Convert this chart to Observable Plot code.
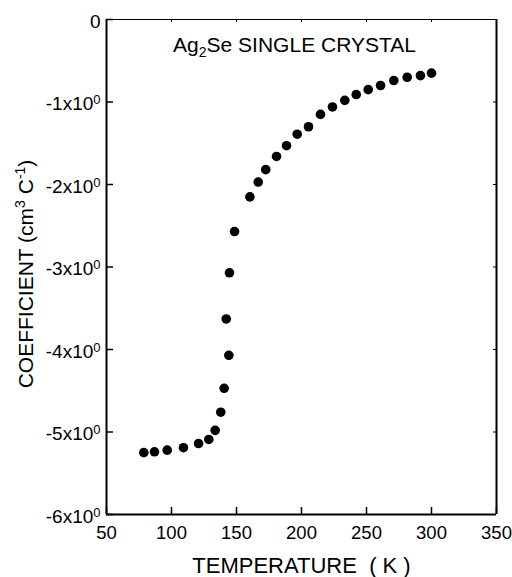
<!DOCTYPE html>
<html><head><meta charset="utf-8">
<script src="https://cdn.jsdelivr.net/npm/d3@7"></script>
<script src="https://cdn.jsdelivr.net/npm/@observablehq/plot@0.6"></script>
<style>html,body{margin:0;padding:0;background:#fff;}</style>
</head><body><div id="chart"></div>
<script>
const temperature = [78.7, 86.9, 96.7, 109.2, 120.8, 128.7, 133.6, 137.9, 140.5, 144.1, 142.1, 144.6, 148.5, 160.3, 166.7, 172.5, 180.8, 188.5, 196.7, 205.4, 214.6, 223.8, 233.3, 242.1, 251.3, 260.8, 271.0, 281.3, 291.5, 300.0];
const coefficient = [-5.25, -5.24, -5.22, -5.19, -5.14, -5.09, -4.98, -4.76, -4.47, -4.07, -3.63, -3.07, -2.57, -2.15, -1.97, -1.82, -1.66, -1.53, -1.39, -1.30, -1.15, -1.06, -0.98, -0.91, -0.85, -0.80, -0.74, -0.70, -0.68, -0.65];
const xTicks = [50, 100, 150, 200, 250, 300, 350];
const yTicks = [0, -1, -2, -3, -4, -5, -6];
const titleParts = ["Ag", "2", "Se SINGLE CRYSTAL"];
const xLabel = "TEMPERATURE\u00a0\u00a0( K )";
const yLabelParts = ["COEFFICIENT (cm", "3", "\u00a0C", "-1", ")"];

const data = temperature.map((t, i) => ({t, c: coefficient[i]}));
const titleStr = titleParts.join("");
const yLabelStr = yLabelParts.join("");

const plot = Plot.plot({
  width: 512, height: 577,
  marginLeft: 106, marginRight: 16, marginTop: 19, marginBottom: 63,
  style: {fontFamily: "'Liberation Sans', Arial, sans-serif", fontSize: "18px", color: "black", background: "white"},
  x: {domain: [50, 350]},
  y: {domain: [-6, 0]},
  marks: [
    Plot.ruleY([0], {stroke: "black", strokeWidth: 1}),
    Plot.ruleY([-6], {stroke: "black", strokeWidth: 2}),
    Plot.ruleX([50], {stroke: "black", strokeWidth: 2}),
    Plot.ruleX([350], {stroke: "black", strokeWidth: 2}),
    Plot.tickX(xTicks, {x: d => d, insetTop: 488, stroke: "black", strokeWidth: 1.5}),
    Plot.tickX(xTicks, {x: d => d, insetBottom: 492, stroke: "black", strokeWidth: 1}),
    Plot.tickY(yTicks, {y: d => d, insetRight: 383, stroke: "black", strokeWidth: 1.5}),
    Plot.tickY(yTicks, {y: d => d, insetLeft: 387, stroke: "black", strokeWidth: 1}),
    Plot.axisX({ticks: xTicks, tickSize: 0, tickPadding: 11, fontSize: 18.5, label: null}),
    Plot.axisY({ticks: yTicks, tickSize: 0, tickPadding: 6, fontSize: 19, dy: 2, label: null,
      tickFormat: d => d === 0 ? "0" : `${d}x10`}),
    Plot.dot(data, {x: "t", y: "c", r: 4.8, fill: "black", stroke: "none"}),
    Plot.text([titleStr], {frameAnchor: "top", lineAnchor: "bottom", textAnchor: "middle", dx: -7, dy: 32, fontSize: 21}),
    Plot.text([xLabel], {frameAnchor: "bottom", lineAnchor: "bottom", textAnchor: "middle", dy: 58, fontSize: 22}),
    Plot.text([yLabelStr], {frameAnchor: "left", lineAnchor: "bottom", textAnchor: "middle", rotate: -90, dx: -74, dy: 7, fontSize: 21})
  ]
});

document.getElementById("chart").appendChild(plot);
const svg = d3.select(plot);

// superscripts on y tick labels
svg.selectAll('g[aria-label="y-axis tick label"] text').each(function() {
  const t = d3.select(this);
  if (t.text() !== "0") {
    t.append("tspan").attr("font-size", 13).attr("dy", -6).text("0");
  }
});

svg.selectAll("text").each(function() {
  const t = d3.select(this);
  const s = this.textContent;
  if (s === titleStr) {
    t.text("");
    t.append("tspan").text(titleParts[0]);
    t.append("tspan").attr("font-size", 14).attr("dy", 5).text(titleParts[1]);
    t.append("tspan").attr("dy", -5).text(titleParts[2]);
  } else if (s === yLabelStr) {
    t.text("");
    t.append("tspan").text(yLabelParts[0]);
    t.append("tspan").attr("font-size", 14).attr("dy", -8).text(yLabelParts[1]);
    t.append("tspan").attr("dy", 8).text(yLabelParts[2]);
    t.append("tspan").attr("font-size", 14).attr("dy", -8).text(yLabelParts[3]);
    t.append("tspan").attr("dy", 8).text(yLabelParts[4]);
  }
});
</script>
</body></html>
